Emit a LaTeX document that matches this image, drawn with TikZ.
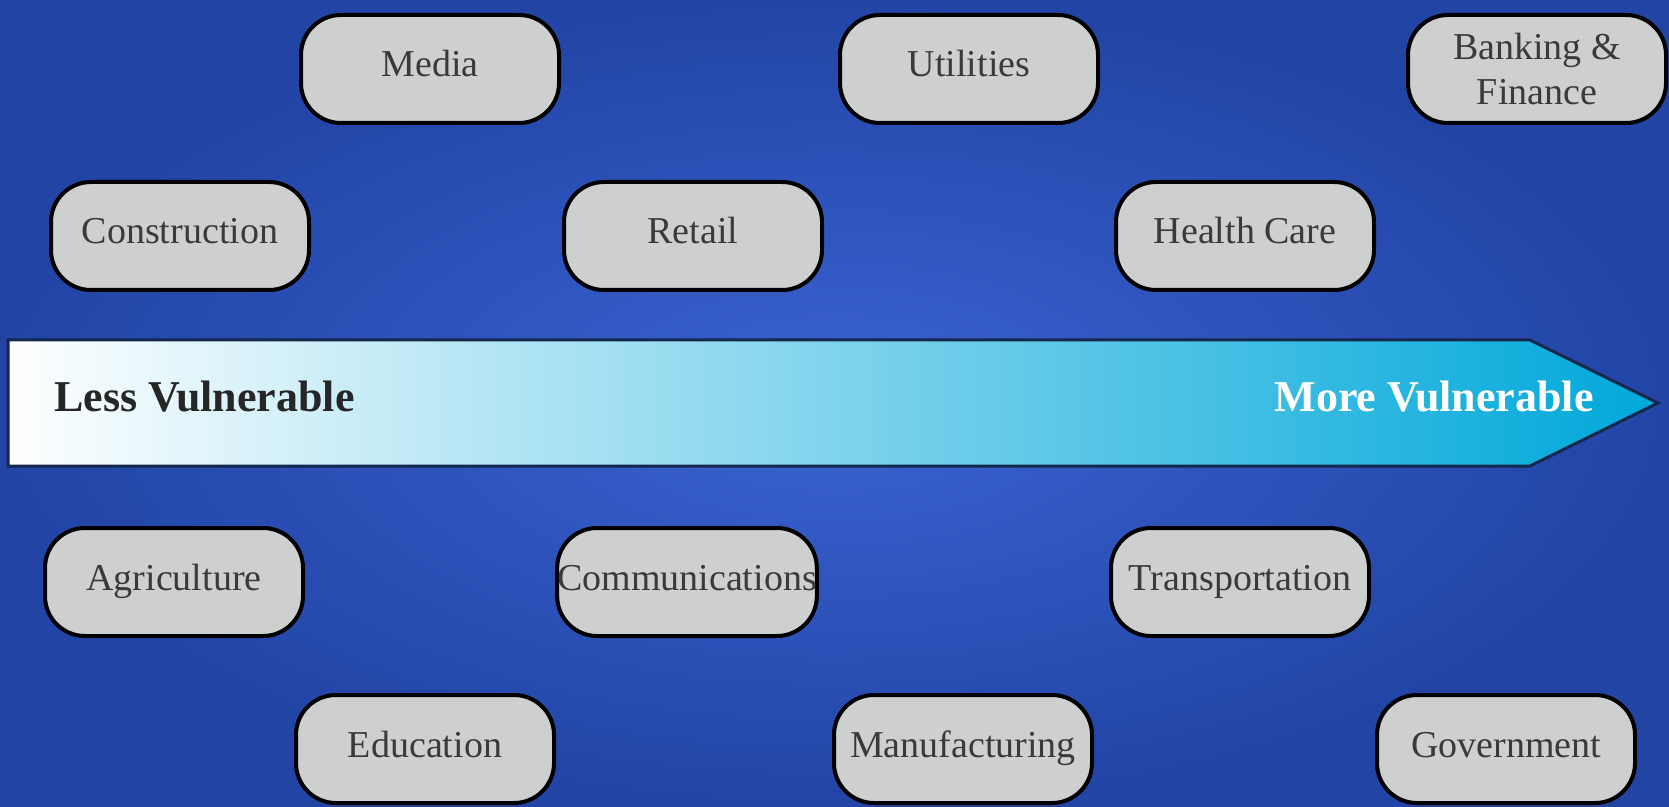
\documentclass[tikz,border=0pt]{standalone}
\usepackage{fontspec}
\setmainfont{Liberation Serif}

\definecolor{bgouter}{HTML}{2244A5}
\definecolor{bginner}{HTML}{3A63D2}
\definecolor{boxgray}{HTML}{CED0CF}
\definecolor{boxtext}{HTML}{3A3A3A}
\definecolor{arrowmid}{HTML}{94D2E8}
\definecolor{arrowend}{HTML}{00A8DA}
\definecolor{arrowline}{HTML}{14284E}

\begin{document}
\begin{tikzpicture}[x=0.5pt,y=-0.5pt]
  \tikzstyle{sector}=[draw=black,line width=2pt,fill=boxgray,rounded corners=20pt,
    minimum width=129pt,minimum height=54pt,inner sep=0pt,text=boxtext,
    text height=13pt,text depth=5pt,
    align=center,font=\fontsize{19}{22.5}\selectfont]
  \tikzstyle{scalelabel}=[inner sep=0pt,font=\fontsize{22}{26}\selectfont\bfseries]

  \useasboundingbox (0,0) rectangle (1669,807);
  \shade[inner color=bginner,outer color=bgouter] (0,0) rectangle (1669,807);

  % the scale arrow
  \shadedraw[left color=white,middle color=arrowmid,right color=arrowend,
    draw=arrowline,line width=1.5pt]
    (8,340) -- (1530,340) -- (1658,403) -- (1530,466) -- (8,466) -- cycle;
  \node[scalelabel,anchor=base west,text=black!85] (less) at (54,411) {Less Vulnerable};
  \node[scalelabel,anchor=base east,text=white]    (more) at (1594,411) {More Vulnerable};

  % sectors above the arrow
  \node[sector] (media)     at (430,69)  {Media};
  \node[sector] (utilities) at (969,69)  {Utilities};
  \node[sector,text height=,text depth=] (banking) at (1537,69) {Banking \&\\Finance};

  \node[sector] (construction) at (180,236)  {Construction};
  \node[sector] (retail)       at (693,236)  {Retail};
  \node[sector] (health)       at (1245,236) {Health Care};

  % sectors below the arrow
  \node[sector] (agriculture)    at (174,582)  {Agriculture};
  \node[sector] (communications) at (687,582)  {Communications};
  \node[sector] (transportation) at (1240,582) {Transportation};

  \node[sector] (education)     at (425,749)  {Education};
  \node[sector] (manufacturing) at (963,749)  {Manufacturing};
  \node[sector] (government)    at (1506,749) {Government};
\end{tikzpicture}
\end{document}
